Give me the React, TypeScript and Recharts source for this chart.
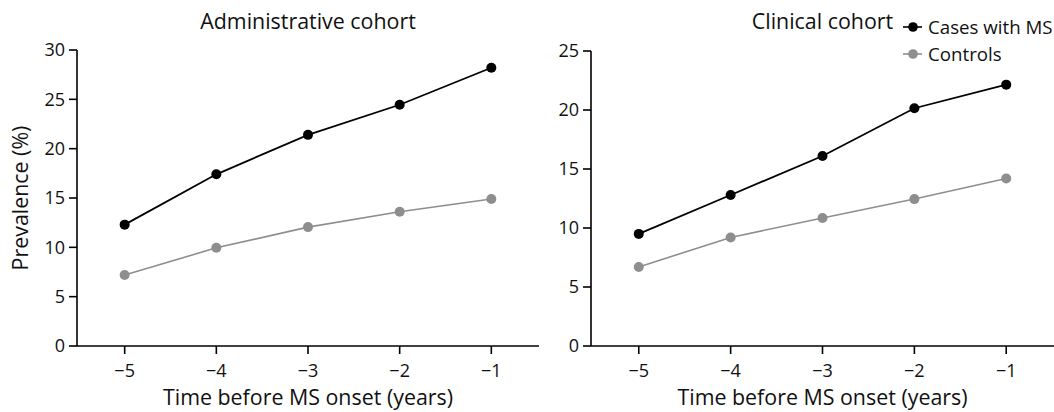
import { LineChart, Line, XAxis, YAxis, Legend } from "recharts";

// ─── data ─────────────────────────────────────────────────────────────────────

const years = [-5, -4, -3, -2, -1];

const adminCases = [12.3, 17.4, 21.4, 24.45, 28.2];
const adminControls = [7.2, 9.95, 12.05, 13.6, 14.9];

const clinicalCases = [9.5, 12.8, 16.1, 20.15, 22.15];
const clinicalControls = [6.7, 9.2, 10.85, 12.45, 14.2];

const adminTicks = [0, 5, 10, 15, 20, 25, 30];
const clinicalTicks = [0, 5, 10, 15, 20, 25];

const seriesNames = ["Cases with MS", "Controls"];

const FONT = "'Open Sans', 'Noto Sans', sans-serif";
const BLACK = "#000000";
const GREY = "#8e8e8e";
const TEXT = "#111111";

const build = (cases: number[], controls: number[]) =>
  years.map((year, i) => ({ year, cases: cases[i], controls: controls[i] }));

const fmtYear = (v: number) => (v < 0 ? `\u2212${Math.abs(v)}` : `${v}`);

// ─── legend ───────────────────────────────────────────────────────────────────

function LegendBox() {
  const colors = [BLACK, GREY];
  return (
    <div style={{ fontFamily: FONT, fontSize: 18.7, color: TEXT }}>
      {seriesNames.map((name, i) => (
        <div key={name} style={{ display: "flex", alignItems: "center", height: 27 }}>
          <svg width={22} height={14} style={{ marginRight: 4, flexShrink: 0 }}>
            <line x1={1} y1={7} x2={20} y2={7} stroke={colors[i]} strokeWidth={1.6} />
            <circle cx={11} cy={7} r={4.8} fill={colors[i]} />
          </svg>
          <span style={{ whiteSpace: "nowrap" }}>{name}</span>
        </div>
      ))}
    </div>
  );
}

// ─── panel ────────────────────────────────────────────────────────────────────

function Panel({
  title,
  data,
  ticks,
  width,
  yWidth,
  top,
  right,
  yLabel,
  legendLeft,
}: {
  title: string;
  data: { year: number; cases: number; controls: number }[];
  ticks: number[];
  width: number;
  yWidth: number;
  top: number;
  right: number;
  yLabel?: string;
  legendLeft?: number;
}) {
  const tickStyle = { fill: TEXT, fontSize: 18, fontFamily: FONT };
  const plotCenter = yWidth + (width - yWidth - right) / 2;
  return (
    <div style={{ position: "relative", width, height: 412 }}>
      <div
        style={{
          position: "absolute",
          top: 8,
          left: plotCenter - 150,
          width: 300,
          textAlign: "center",
          fontFamily: FONT,
          fontSize: 21.4,
          color: TEXT,
          lineHeight: "26px",
          whiteSpace: "nowrap",
        }}
      >
        {title}
      </div>
      <LineChart
        width={width}
        height={412}
        data={data}
        margin={{ top, right, bottom: 0, left: 0 }}
      >
        <XAxis
          dataKey="year"
          type="number"
          domain={[-5.52, -0.48]}
          ticks={years}
          tickFormatter={fmtYear}
          height={66}
          tickSize={8}
          tickMargin={10}
          tick={tickStyle}
          axisLine={{ stroke: BLACK, strokeWidth: 1.6 }}
          tickLine={{ stroke: BLACK, strokeWidth: 1.6 }}
          label={{
            value: "Time before MS onset (years)",
            position: "insideBottom",
            offset: 7,
            style: { fill: TEXT, fontSize: 21.4, fontFamily: FONT },
          }}
        />
        <YAxis
          type="number"
          domain={[ticks[0], ticks[ticks.length - 1]]}
          ticks={ticks}
          width={yWidth}
          tickSize={8}
          tickMargin={4}
          tick={tickStyle}
          axisLine={{ stroke: BLACK, strokeWidth: 1.6 }}
          tickLine={{ stroke: BLACK, strokeWidth: 1.6 }}
          label={
            yLabel
              ? {
                  value: yLabel,
                  angle: -90,
                  position: "insideLeft",
                  offset: 20,
                  style: { textAnchor: "middle", fill: TEXT, fontSize: 21.4, fontFamily: FONT },
                }
              : undefined
          }
        />
        {legendLeft !== undefined && (
          <Legend
            layout="vertical"
            align="center"
            verticalAlign="middle"
            wrapperStyle={{ top: 13, left: legendLeft, width: width - legendLeft }}
            content={() => <LegendBox />}
          />
        )}
        <Line
          dataKey="controls"
          name={seriesNames[1]}
          stroke={GREY}
          strokeWidth={1.6}
          dot={{ r: 5, fill: GREY, stroke: GREY, strokeWidth: 0 }}
          isAnimationActive={false}
        />
        <Line
          dataKey="cases"
          name={seriesNames[0]}
          stroke={BLACK}
          strokeWidth={1.8}
          dot={{ r: 5, fill: BLACK, stroke: BLACK, strokeWidth: 0 }}
          isAnimationActive={false}
        />
      </LineChart>
    </div>
  );
}

// ─── main ─────────────────────────────────────────────────────────────────────

export default function App() {
  return (
    <div
      style={{
        position: "absolute",
        left: 0,
        top: 0,
        width: 1054,
        height: 412,
        display: "flex",
        background: "#fff",
        overflow: "hidden",
      }}
    >
      <Panel
        title="Administrative cohort"
        data={build(adminCases, adminControls)}
        ticks={adminTicks}
        width={545}
        yWidth={77}
        top={50}
        right={6}
        yLabel="Prevalence (%)"
      />
      <Panel
        title="Clinical cohort"
        data={build(clinicalCases, clinicalControls)}
        ticks={clinicalTicks}
        width={509}
        yWidth={46}
        top={51}
        right={0}
        legendLeft={357}
      />
    </div>
  );
}
